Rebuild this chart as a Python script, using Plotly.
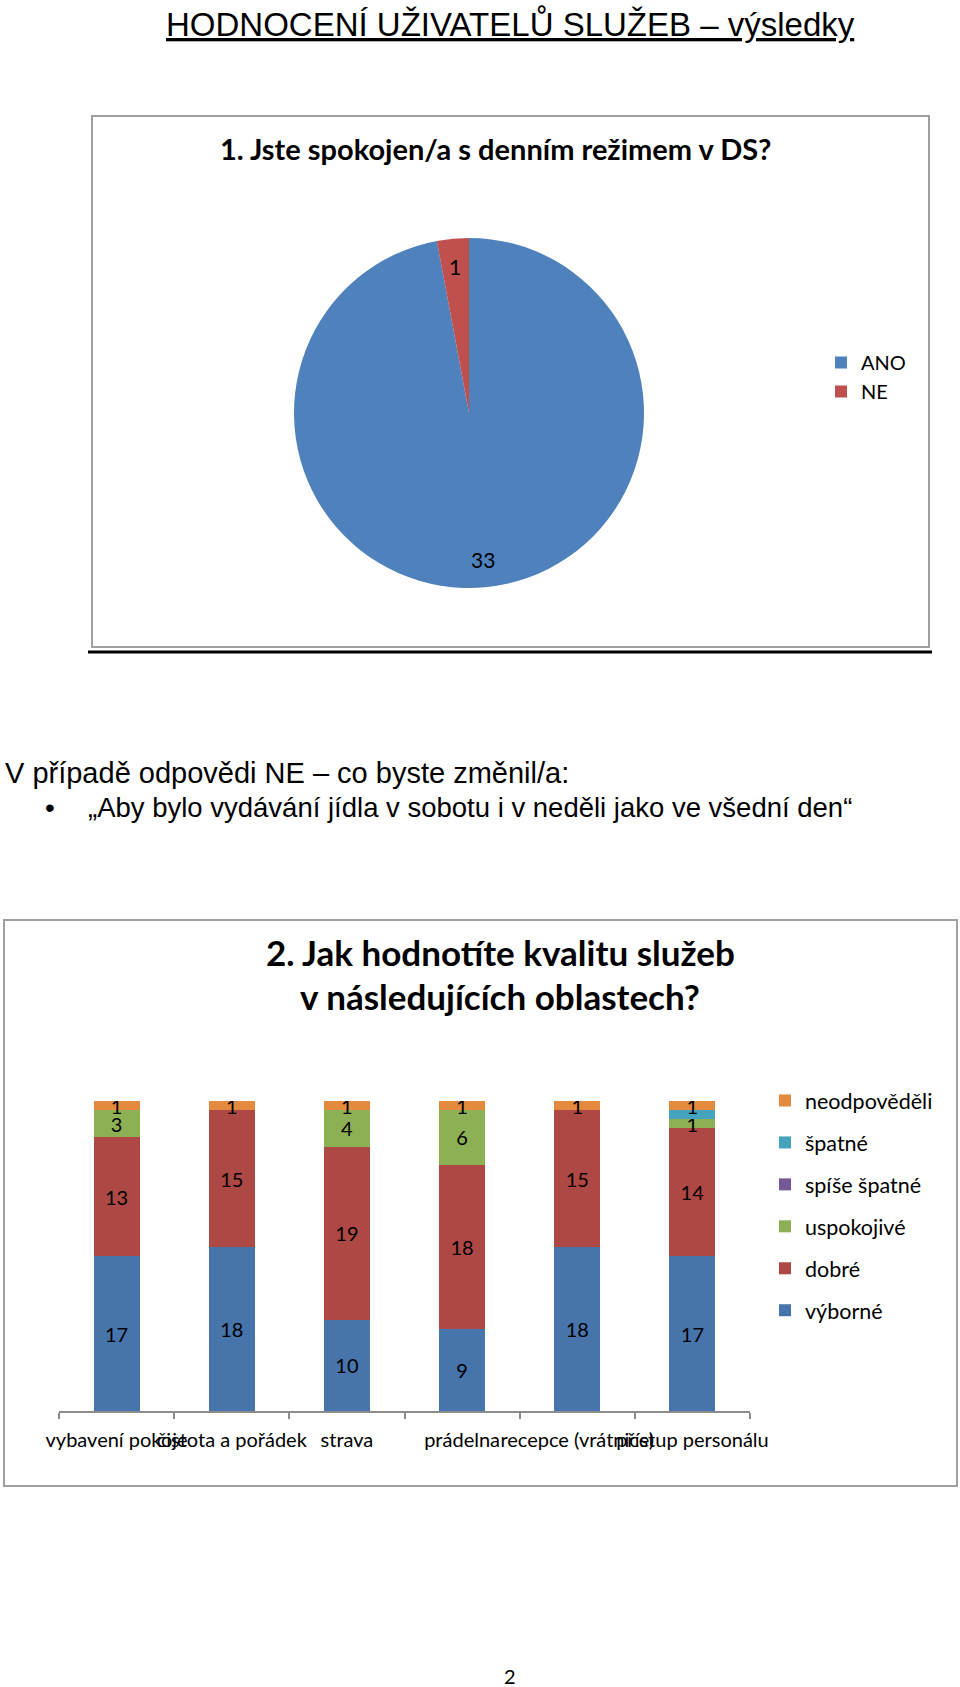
import math
import plotly.graph_objects as go

W, H = 960, 1687

# --- data ---
nadpis = "HODNOCENÍ UŽIVATELŮ SLUŽEB – výsledky"

otazka1 = "1. Jste spokojen/a s denním režimem v DS?"
odpovedi1 = ["ANO", "NE"]
pocty1 = [33, 1]

komentar_uvod = "V případě odpovědi NE – co byste změnil/a:"
komentar = "„Aby bylo vydávání jídla v sobotu i v neděli jako ve všední den“"

otazka2_r1 = "2. Jak hodnotíte kvalitu služeb"
otazka2_r2 = "v následujících oblastech?"
oblasti = ["vybavení pokoje", "čistota a pořádek", "strava", "prádelna",
           "recepce (vrátnice)", "přístup personálu"]
vyborne = [17, 18, 10, 9, 18, 17]
dobre = [13, 15, 19, 18, 15, 14]
uspokojive = [3, 0, 4, 6, 0, 1]
spise_spatne = [0, 0, 0, 0, 0, 0]
spatne = [0, 0, 0, 0, 0, 1]
neodpovedeli = [1, 1, 1, 1, 1, 1]

cislo_strany = "2"

CAL = "Lato"
ARIAL = "Liberation Sans"


def px(x):
    return x / W


def py(y):
    return 1 - y / H


fig = go.Figure()

# pie (labels placed as annotations along each slice's middle angle)
pie_cx, pie_cy, pie_r = 469, 413, 175
fig.add_trace(go.Pie(
    labels=odpovedi1, values=pocty1, sort=False, direction="clockwise",
    marker=dict(colors=["#4F81BD", "#C0504D"]),
    textinfo="none",
    domain=dict(x=[px(pie_cx - pie_r), px(pie_cx + pie_r)],
                y=[py(pie_cy + pie_r), py(pie_cy - pie_r)]),
    legend="legend", hoverinfo="label+value",
))

# stacked bars
serie = [
    ("výborné", vyborne, "#4674AB", True),
    ("dobré", dobre, "#AD4845", True),
    ("uspokojivé", uspokojive, "#8DB054", True),
    ("spíše špatné", spise_spatne, "#765A98", True),
    ("špatné", spatne, "#46A3BD", False),
    ("neodpověděli", neodpovedeli, "#E38A3E", True),
]
for i, (jmeno, hodnoty, barva, popisky) in enumerate(serie):
    fig.add_trace(go.Bar(
        x=oblasti, y=hodnoty, name=jmeno, legendgroup=jmeno,
        legendrank=100 - i,
        marker=dict(color=barva, line=dict(width=0)),
        text=[str(v) if (v and popisky) else "" for v in hodnoty],
        textposition="inside", insidetextanchor="middle", constraintext="none",
        textangle=0, textfont=dict(family=CAL, size=20, color="black"),
        legend="legend2", xaxis="x", yaxis="y",
    ))

annotations = [
    dict(x=px(510), y=py(24), text="<u>" + nadpis + "</u>",
         font=dict(family=ARIAL, size=33, color="black")),
    dict(x=px(495), y=py(148), text="<b>" + otazka1 + "</b>",
         font=dict(family=CAL, size=29, color="black")),
    dict(x=px(3), y=py(773), text=komentar_uvod, xanchor="left",
         font=dict(family=ARIAL, size=29, color="black")),
    dict(x=px(50), y=py(807), text="•",
         font=dict(family=ARIAL, size=28, color="black")),
    dict(x=px(86), y=py(807), text=komentar, xanchor="left",
         font=dict(family=ARIAL, size=27.5, color="black")),
    dict(x=px(500), y=py(952), text="<b>" + otazka2_r1 + "</b>",
         font=dict(family=CAL, size=35, color="black")),
    dict(x=px(500), y=py(996), text="<b>" + otazka2_r2 + "</b>",
         font=dict(family=CAL, size=35, color="black")),
    dict(x=px(510), y=py(1676), text=cislo_strany,
         font=dict(family=CAL, size=20, color="black")),
]

# pie value labels
celkem = sum(pocty1)
kum = 0
for v in pocty1:
    stred = (kum + v / 2) / celkem * 2 * math.pi
    kum += v
    lx = pie_cx + 0.84 * pie_r * math.sin(stred)
    ly = pie_cy - 0.84 * pie_r * math.cos(stred)
    annotations.append(dict(x=px(lx), y=py(ly), text=str(v),
                            font=dict(family=CAL, size=21, color="black")))

for a in annotations:
    a.update(xref="paper", yref="paper", showarrow=False)
    a.setdefault("xanchor", "center")
    a.setdefault("yanchor", "middle")

shapes = [
    dict(type="rect", x0=px(92), x1=px(929), y0=py(116), y1=py(647),
         line=dict(color="#a0a0a0", width=2)),
    dict(type="line", x0=px(88), x1=px(932), y0=py(652), y1=py(652),
         line=dict(color="black", width=3)),
    dict(type="rect", x0=px(4), x1=px(957), y0=py(920), y1=py(1486),
         line=dict(color="#a0a0a0", width=2)),
]
for s in shapes:
    s.update(xref="paper", yref="paper", layer="below")

fig.update_layout(
    width=W, height=H, margin=dict(l=0, r=0, t=0, b=0, autoexpand=False),
    paper_bgcolor="white", plot_bgcolor="white",
    barmode="stack", bargap=0.6,
    annotations=annotations, shapes=shapes,
    xaxis=dict(domain=[px(59), px(750)], type="category", tickangle=0,
               automargin=False,
               showline=True, linecolor="#8c8c8c", linewidth=1.5,
               ticks="outside", ticklen=6, tickcolor="#8c8c8c", tickwidth=1.5,
               tickson="boundaries", ticklabelstandoff=10,
               tickfont=dict(family=CAL, size=20, color="black"),
               showgrid=False, fixedrange=True),
    yaxis=dict(domain=[py(1411), py(1101)], range=[0, 34], visible=False,
               automargin=False, fixedrange=True),
    legend=dict(x=px(821), y=py(343), xanchor="left", yanchor="top",
                font=dict(family=CAL, size=20, color="black"),
                bgcolor="rgba(0,0,0,0)"),
    legend2=dict(x=px(765), y=py(1080), xanchor="left", yanchor="top",
                 traceorder="grouped", tracegroupgap=11,
                 font=dict(family=CAL, size=21.5, color="black"),
                 bgcolor="rgba(0,0,0,0)"),
    showlegend=True,
)

fig.write_html("out.html", config={"displayModeBar": False},
               post_script="document.body.style.margin='0px';")
